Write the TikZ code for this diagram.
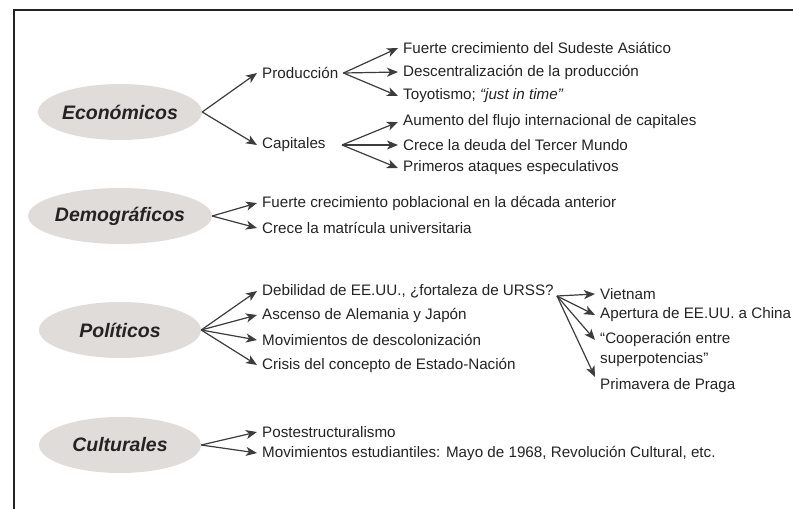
\documentclass[tikz,border=0pt]{standalone}
\usepackage{fontspec}
\setmainfont{Liberation Sans}
\usetikzlibrary{shapes.geometric,arrows.meta}
\definecolor{elipse}{RGB}{224,220,218}
\definecolor{tinta}{RGB}{35,35,35}
\definecolor{flechagris}{RGB}{60,60,60}
\begin{document}
\begin{tikzpicture}[x=1pt,y=-1pt,
    grupo/.style={ellipse,fill=elipse,minimum width=162pt,minimum height=56pt,inner sep=0pt,
      font=\fontsize{19.5}{21}\selectfont\bfseries\itshape,text=tinta},
    item/.style={anchor=west,inner xsep=5pt,inner ysep=1pt,font=\fontsize{15.2}{20}\selectfont,text=tinta},
    flecha/.style={-{Stealth[length=11pt,width=9pt,inset=3pt]},draw=flechagris,line width=1.2pt}]
    \useasboundingbox (0,0) rectangle (793,509);

    % Frame
    \draw[line width=1.2pt,tinta] (14,509) -- (14,10) -- (793,10);

    % Groups
    \node[grupo] (eco) at (120,112) {Económicos};
    \node[grupo] (dem) at (120,216) {Demográficos};
    \node[grupo] (pol) at (120,330) {Políticos};
    \node[grupo] (cul) at (120,445) {Culturales};

    % Económicos
    \node[item] (prod) at (257,73) {Producción};
    \node[item] (cap) at (257,145) {Capitales};
    \coordinate (capo) at (342,145);
    \node[item] (prodA) at (398,48) {Fuerte crecimiento del Sudeste Asiático};
    \node[item] (prodB) at (398,72) {Descentralización de la producción};
    \node[item] (prodC) at (398,96) {Toyotismo; \textit{“just in time”}};
    \node[item] (capA) at (398,122) {Aumento del flujo internacional de capitales};
    \node[item] (capB) at (398,145) {Crece la deuda del Tercer Mundo};
    \node[item] (capC) at (398,168) {Primeros ataques especulativos};
    \draw[flecha] (eco.east) -- (prod.west);
    \draw[flecha] (eco.east) -- (cap.west);
    \draw[flecha] (prod.east) -- (prodA.west);
    \draw[flecha] (prod.east) -- (prodB.west);
    \draw[flecha] (prod.east) -- (prodC.west);
    \draw[flecha] (capo) -- (capA.west);
    \draw[flecha] (capo) -- (capB.west);
    \draw[flecha] (capo) -- (capC.west);

    % Demográficos
    \node[item] (demA) at (257,203) {Fuerte crecimiento poblacional en la década anterior};
    \node[item] (demB) at (257,228) {Crece la matrícula universitaria};
    \draw[flecha] (dem.east) -- (demA.west);
    \draw[flecha] (dem.east) -- (demB.west);

    % Políticos
    \node[item] (polA) at (257,291) {Debilidad de EE.UU., ¿fortaleza de URSS?};
    \node[item] (polB) at (257,315) {Ascenso de Alemania y Japón};
    \node[item] (polC) at (257,340) {Movimientos de descolonización};
    \node[item] (polD) at (257,365) {Crisis del concepto de Estado-Nación};
    \draw[flecha] (pol.east) -- (polA.west);
    \draw[flecha] (pol.east) -- (polB.west);
    \draw[flecha] (pol.east) -- (polC.west);
    \draw[flecha] (pol.east) -- (polD.west);

    \coordinate (urss) at (557,296);
    \node[item] (viet) at (595,294) {Vietnam};
    \node[item] (aper) at (595,315) {Apertura de EE.UU. a China};
    \node[item,anchor=north west,align=left] (coop) at (595,331) {“Cooperación entre\\superpotencias”};
    \node[item] (prim) at (595,386) {Primavera de Praga};
    \draw[flecha] (urss) -- (viet.west);
    \draw[flecha] (urss) -- (aper.west);
    \draw[flecha] (urss) -- ([yshift=-9pt]coop.north west);
    \draw[flecha] (urss) -- ([yshift=9pt]prim.west);

    % Culturales
    \node[item] (culA) at (257,432) {Postestructuralismo};
    \node[item] (culB) at (257,453) {Movimientos estudiantiles: Mayo de 1968, Revolución Cultural, etc.};
    \draw[flecha] (cul.east) -- (culA.west);
    \draw[flecha] (cul.east) -- (culB.west);
  \end{tikzpicture}
\end{document}
